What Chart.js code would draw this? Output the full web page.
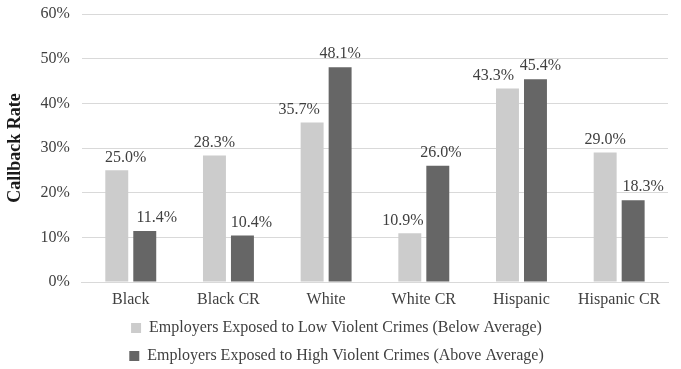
<!DOCTYPE html>
<html>
<head>
<meta charset="utf-8">
<script src="https://cdn.jsdelivr.net/npm/chart.js@4/dist/chart.umd.min.js"></script>
<style>
  html, body { margin: 0; padding: 0; background: #ffffff; }
  #wrap { position: relative; width: 681px; height: 369px; }
</style>
</head>
<body>
<div id="wrap"><canvas id="callback-chart"></canvas></div>
<script>
const categories = ["Black", "Black CR", "White", "White CR", "Hispanic", "Hispanic CR"];
const lowCrimeRates = [25.0, 28.3, 35.7, 10.9, 43.3, 29.0];
const highCrimeRates = [11.4, 10.4, 48.1, 26.0, 45.4, 18.3];
const seriesNames = [
  "Employers Exposed to Low Violent Crimes (Below Average)",
  "Employers Exposed to High Violent Crimes (Above Average)",
];

const LIGHT_BAR = "#cccccc";
const DARK_BAR = "#666666";
const GRID_COLOR = "#d9d9d9";
const TEXT_COLOR = "#404040";
const FONT = "'Liberation Serif', 'Times New Roman', serif";

// labels in the original were nudged sideways by hand, per dataset
const labelNudge = [
  [9, 0, -13, -7, -14, 0],
  [12, 9, 0, 3, 5, 10],
];

const barLabels = {
  id: "barLabels",
  afterDatasetsDraw(chart) {
    const ctx = chart.ctx;
    ctx.save();
    ctx.font = "16px " + FONT;
    ctx.fillStyle = TEXT_COLOR;
    ctx.textAlign = "center";
    ctx.textBaseline = "middle";
    chart.data.datasets.forEach((dataset, di) => {
      const meta = chart.getDatasetMeta(di);
      meta.data.forEach((bar, i) => {
        const text = dataset.data[i].toFixed(1) + "%";
        ctx.fillText(text, bar.x + labelNudge[di][i], bar.y - 13);
      });
    });
    ctx.restore();
  },
};

// the default legend box is a bit taller than the original's
const tightLegend = {
  id: "tightLegend",
  beforeInit(chart) {
    const fit = chart.legend.fit;
    chart.legend.fit = function () {
      fit.bind(chart.legend)();
      this.height -= 5;
    };
  },
};

function createChartData() {
  return {
    labels: categories,
    datasets: [
      {
        label: seriesNames[0],
        data: lowCrimeRates,
        backgroundColor: LIGHT_BAR,
        borderWidth: 0,
      },
      {
        label: seriesNames[1],
        data: highCrimeRates,
        backgroundColor: DARK_BAR,
        borderWidth: 0,
      },
    ],
  };
}

function createChartScales() {
  return {
    x: {
      grid: { display: false, drawTicks: false },
      border: { display: true, color: GRID_COLOR },
      ticks: {
        color: TEXT_COLOR,
        font: { family: FONT, size: 16 },
        padding: 8,
      },
      afterFit: (scale) => {
        scale.height = 26;
      },
    },
    y: {
      min: 0,
      max: 60,
      border: { display: false },
      grid: { color: GRID_COLOR, drawTicks: false },
      ticks: {
        stepSize: 10,
        color: TEXT_COLOR,
        font: { family: FONT, size: 16 },
        padding: 12,
        callback: (value) => value + "%",
      },
      title: {
        display: true,
        text: "Callback Rate",
        color: "#1a1a1a",
        font: { family: FONT, size: 18, weight: "bold" },
        padding: { top: 0, bottom: 2 },
      },
      afterFit: (scale) => {
        scale.paddingTop = 14;
      },
    },
  };
}

const ctx = document.getElementById("callback-chart").getContext("2d");
new Chart(ctx, {
  type: "bar",
  data: createChartData(),
  options: {
    responsive: true,
    maintainAspectRatio: false,
    animation: false,
    categoryPercentage: 0.573,
    barPercentage: 0.82,
    layout: { padding: { left: 5, right: 13, top: 0, bottom: 0 } },
    scales: createChartScales(),
    plugins: {
      tooltip: { enabled: false },
      legend: {
        position: "bottom",
        labels: {
          color: TEXT_COLOR,
          font: { family: FONT, size: 16 },
          boxWidth: 10,
          boxHeight: 10,
          padding: 12,
        },
      },
    },
  },
  plugins: [barLabels, tightLegend],
});
</script>
</body>
</html>
